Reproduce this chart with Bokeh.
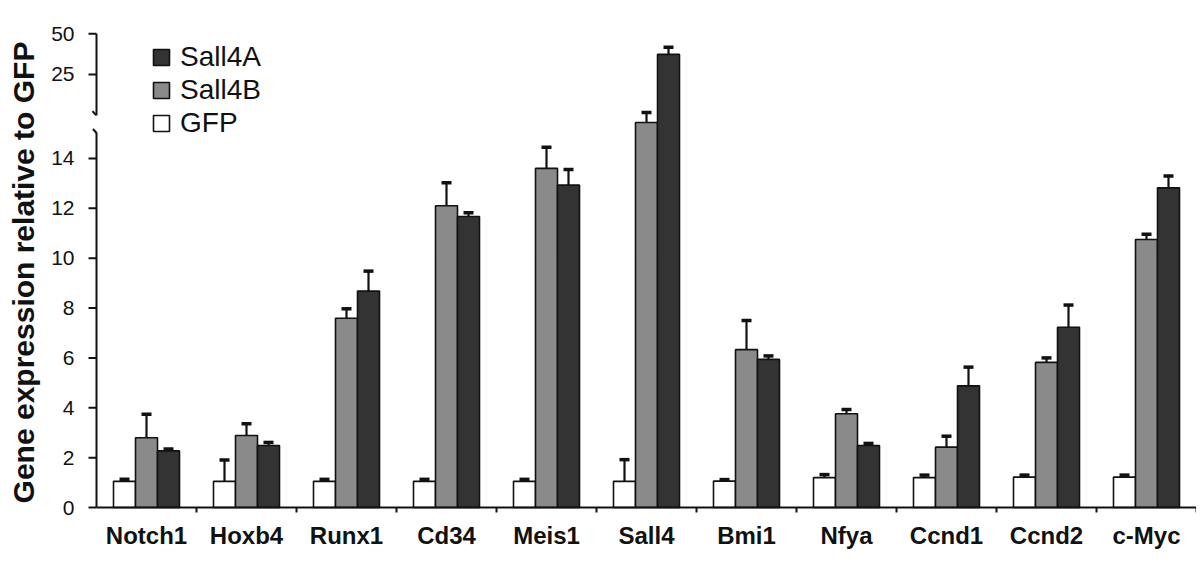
from bokeh.plotting import figure
from bokeh.models import (ColumnDataSource, FixedTicker, Whisker, TeeHead, Legend,
                          LegendItem, Range1d)
from bokeh.embed import file_html
from bokeh.resources import INLINE

# ---------------- data ----------------
genes = ["Notch1", "Hoxb4", "Runx1", "Cd34", "Meis1", "Sall4",
         "Bmi1", "Nfya", "Ccnd1", "Ccnd2", "c-Myc"]
gfp = [1.05, 1.05, 1.05, 1.05, 1.05, 1.05, 1.06, 1.20, 1.20, 1.22, 1.22]
gfp_err = [0.08, 0.86, 0.08, 0.08, 0.08, 0.87, 0.06, 0.12, 0.10, 0.08, 0.08]
sall4b = [2.80, 2.89, 7.59, 12.10, 13.60, 15.44, 6.33, 3.76, 2.42, 5.82, 10.75]
sall4b_err = [0.94, 0.47, 0.38, 0.92, 0.85, 0.40, 1.17, 0.17, 0.44, 0.18, 0.21]
sall4a = [2.27, 2.49, 8.68, 11.67, 12.93, 37.3, 5.94, 2.49, 4.88, 7.23, 12.82]
sall4a_err = [0.08, 0.12, 0.80, 0.15, 0.63, 4.4, 0.14, 0.08, 0.75, 0.89, 0.47]
ytick_values = [0, 2, 4, 6, 8, 10, 12, 14, 25, 50]
legend_order = ["Sall4A", "Sall4B", "GFP"]

# ---------------- broken axis scale ----------------
D16, D25, D50 = 16.0, 17.37, 19.0


def disp(v):
    if v <= 16:
        return v
    if v <= 25:
        return D16 + (v - 16) * (D25 - D16) / 9.0
    return D25 + (v - 25) * (D50 - D25) / 25.0


FONT = "Liberation Sans"
BAR_W = 0.22
OFFS = {"GFP": -BAR_W, "Sall4B": 0.0, "Sall4A": BAR_W}
COLORS = {"GFP": "#ffffff", "Sall4B": "#8a8a8a", "Sall4A": "#333333"}

p = figure(width=1196, height=560, output_backend="svg", toolbar_location=None,
           x_range=Range1d(-0.12, 11.0), y_range=Range1d(-0.24, 19.09),
           min_border_left=84, min_border_right=0, min_border_top=31,
           min_border_bottom=47)
p.outline_line_color = None
p.xgrid.visible = False
p.ygrid.visible = False
p.background_fill_color = "white"

renderers = {}
for name, vals, errs in [("GFP", gfp, gfp_err), ("Sall4B", sall4b, sall4b_err),
                         ("Sall4A", sall4a, sall4a_err)]:
    xs = [i + 0.5 + OFFS[name] for i in range(len(genes))]
    src = ColumnDataSource(dict(
        x=xs, top=[disp(v) for v in vals],
        upper=[disp(v + e) for v, e in zip(vals, errs)]))
    r = p.vbar(x="x", top="top", bottom=0, width=BAR_W, source=src,
               fill_color=COLORS[name], line_color="#111111", line_width=1.6)
    renderers[name] = r
    w = Whisker(base="x", lower="top", upper="upper", source=src,
                line_color="#111111", line_width=2.2,
                upper_head=TeeHead(size=10, line_color="#111111", line_width=3.5),
                lower_head=None)
    p.add_layout(w)

# ---------------- hand-drawn axis lines (with break) ----------------
n = len(genes)
AX = dict(line_color="#111111", line_width=2)
p.segment(x0=[0], y0=[0], x1=[n], y1=[0], **AX)
p.segment(x0=list(range(1, n + 1)), y0=[0] * n, x1=list(range(1, n + 1)),
          y1=[-0.2] * n, **AX)
p.segment(x0=[0, 0], y0=[0, 15.72], x1=[0, 0], y1=[15.04, D50], **AX)
p.segment(x0=[-0.035, -0.04], y0=[15.18, 15.90], x1=[0, -0.005], y1=[15.02, 15.74],
          **AX)
yt = [disp(t) for t in ytick_values]
p.segment(x0=[-0.08] * len(yt), y0=yt, x1=[0] * len(yt), y1=yt, **AX)

# ---------------- axes (labels only) ----------------
p.xaxis.ticker = FixedTicker(ticks=[i + 0.5 for i in range(n)])
p.xaxis.major_label_overrides = {i + 0.5: g for i, g in enumerate(genes)}
p.xaxis.axis_line_color = None
p.xaxis.major_tick_line_color = None
p.xaxis.minor_tick_line_color = None
p.xaxis.major_label_standoff = 2
p.xaxis.major_label_text_font = FONT
p.xaxis.major_label_text_font_style = "bold"
p.xaxis.major_label_text_font_size = "24px"
p.xaxis.major_label_text_color = "#111111"

p.yaxis.ticker = FixedTicker(ticks=yt)
p.yaxis.major_label_overrides = {disp(t): str(t) for t in ytick_values}
p.yaxis.axis_line_color = None
p.yaxis.major_tick_line_color = None
p.yaxis.minor_tick_line_color = None
p.yaxis.major_label_standoff = 4
p.yaxis.major_label_text_font = FONT
p.yaxis.major_label_text_font_size = "21px"
p.yaxis.major_label_text_color = "#111111"
p.yaxis.axis_label = "Gene expression relative to GFP"
p.yaxis.axis_label_text_font = FONT
p.yaxis.axis_label_text_font_style = "bold"
p.yaxis.axis_label_text_font_size = "30px"
p.yaxis.axis_label_text_color = "#111111"
p.yaxis.axis_label_standoff = 8

# ---------------- legend (one entry per box, stacked) ----------------
for k, name in enumerate(legend_order):
    lg = Legend(items=[LegendItem(label=name, renderers=[renderers[name]])],
                location=(67, 440 - 33 * k), orientation="vertical",
                glyph_width=20, glyph_height=20, label_height=20, spacing=0,
                padding=0, margin=0, label_standoff=9,
                border_line_color=None, background_fill_alpha=0,
                label_text_font=FONT, label_text_font_size="28px",
                label_text_color="#111111")
    p.add_layout(lg)

open("out.html", "w").write(file_html(p, INLINE))
